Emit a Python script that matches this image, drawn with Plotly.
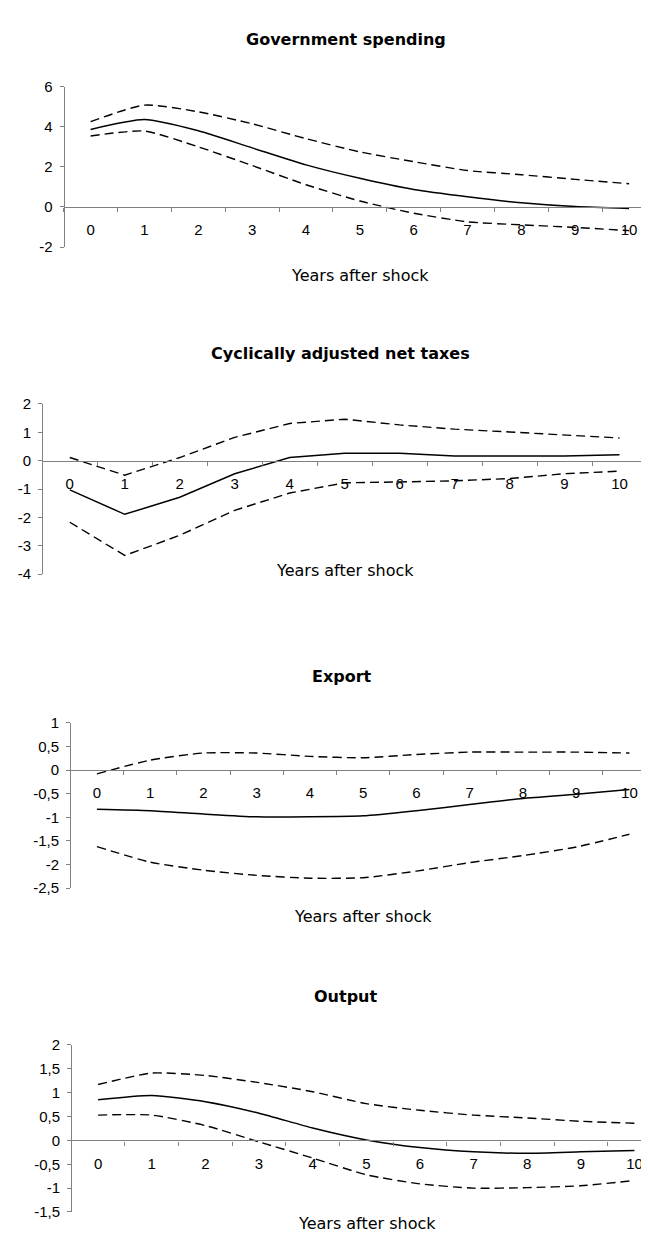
import plotly.graph_objects as go

W, H = 649, 1233

years = [str(i) for i in range(11)]

# Panel 1: Government spending
gov_mid = [3.87, 4.36, 3.80, 2.95, 2.10, 1.43, 0.87, 0.51, 0.21, 0.02, -0.07]
gov_up = [4.26, 5.08, 4.75, 4.15, 3.41, 2.75, 2.26, 1.82, 1.61, 1.38, 1.16]
gov_lo = [3.54, 3.79, 3.00, 2.07, 1.11, 0.30, -0.31, -0.74, -0.89, -1.02, -1.18]
gov_ticks = [-2, 0, 2, 4, 6]
gov_ticktext = ["-2", "0", "2", "4", "6"]

# Panel 2: Cyclically adjusted net taxes
tax_mid = [-1.03, -1.89, -1.29, -0.46, 0.11, 0.26, 0.26, 0.16, 0.16, 0.16, 0.21]
tax_up = [0.11, -0.51, 0.11, 0.82, 1.31, 1.46, 1.26, 1.11, 1.01, 0.90, 0.80]
tax_lo = [-2.17, -3.34, -2.63, -1.75, -1.14, -0.78, -0.75, -0.71, -0.63, -0.46, -0.37]
tax_ticks = [-4, -3, -2, -1, 0, 1, 2]
tax_ticktext = ["-4", "-3", "-2", "-1", "0", "1", "2"]

# Panel 3: Export
exp_mid = [-0.83, -0.86, -0.93, -0.99, -0.99, -0.97, -0.86, -0.73, -0.60, -0.51, -0.41]
exp_up = [-0.08, 0.21, 0.36, 0.36, 0.29, 0.26, 0.33, 0.38, 0.38, 0.38, 0.36]
exp_lo = [-1.62, -1.95, -2.12, -2.23, -2.29, -2.28, -2.14, -1.96, -1.81, -1.63, -1.36]
exp_ticks = [-2.5, -2, -1.5, -1, -0.5, 0, 0.5, 1]
exp_ticktext = ["-2,5", "-2", "-1,5", "-1", "-0,5", "0", "0,5", "1"]

# Panel 4: Output
out_mid = [0.85, 0.94, 0.81, 0.57, 0.26, 0.01, -0.15, -0.24, -0.27, -0.24, -0.21]
out_up = [1.17, 1.41, 1.36, 1.21, 1.02, 0.77, 0.63, 0.53, 0.47, 0.40, 0.36]
out_lo = [0.53, 0.53, 0.31, -0.03, -0.37, -0.72, -0.91, -1.00, -0.99, -0.95, -0.84]
out_ticks = [-1.5, -1, -0.5, 0, 0.5, 1, 1.5, 2]
out_ticktext = ["-1,5", "-1", "-0,5", "0", "0,5", "1", "1,5", "2"]

titles = ["Government spending", "Cyclically adjusted net taxes", "Export", "Output"]
xlabel = "Years after shock"

panels = [
    dict(mid=gov_mid, up=gov_up, lo=gov_lo, tv=gov_ticks, tt=gov_ticktext,
         yr=[-2, 6], xd=[55.7, 648], yd=[70.7, 233.3], zero=192.7, xr=[-0.5, 10.5],
         shape="spline", tpos=(338, 22.7), lpos=(352, 261.7)),
    dict(mid=tax_mid, up=tax_up, lo=tax_lo, tv=tax_ticks, tt=tax_ticktext,
         yr=[-4, 2], xd=[34.3, 639], yd=[392.3, 565], zero=450.0, xr=[-0.5, 10.5],
         shape="linear", tpos=(332, 341.7), lpos=(337, 561.7)),
    dict(mid=exp_mid, up=exp_up, lo=exp_lo, tv=exp_ticks, tt=exp_ticktext,
         yr=[-2.5, 1], xd=[62.3, 648], yd=[715.7, 883.3], zero=763.6, xr=[-0.5, 10.5],
         shape="spline", tpos=(334, 668.3), lpos=(355, 912.3)),
    dict(mid=out_mid, up=out_up, lo=out_lo, tv=out_ticks, tt=out_ticktext,
         yr=[-1.5, 2], xd=[63.3, 649], yd=[1042.3, 1211.7], zero=1139.1, xr=[-0.5, 10.42],
         shape="spline", tpos=(337, 992.7), lpos=(359, 1223.3)),
]

fig = go.Figure()
axis_col = "#808080"
tick_font = dict(family="Liberation Sans, Arial", size=15, color="#000000")
annotations = []

for i, p in enumerate(panels, start=1):
    xa = "x" if i == 1 else f"x{i}"
    ya = "y" if i == 1 else f"y{i}"
    line_kw = dict(shape=p["shape"], smoothing=0.6) if p["shape"] == "spline" else dict(shape="linear")
    fig.add_trace(go.Scatter(x=years, y=p["up"], mode="lines", xaxis=xa, yaxis=ya,
                             line=dict(color="black", width=1.4, dash="9px,5px", **line_kw),
                             showlegend=False))
    fig.add_trace(go.Scatter(x=years, y=p["lo"], mode="lines", xaxis=xa, yaxis=ya,
                             line=dict(color="black", width=1.4, dash="9px,5px", **line_kw),
                             showlegend=False))
    fig.add_trace(go.Scatter(x=years, y=p["mid"], mode="lines", xaxis=xa, yaxis=ya,
                             line=dict(color="black", width=1.5, **line_kw),
                             showlegend=False))

    xkey = "xaxis" if i == 1 else f"xaxis{i}"
    ykey = "yaxis" if i == 1 else f"yaxis{i}"
    x0, x1 = p["xd"]
    ytop, ybot = p["yd"]
    fig.update_layout(**{
        xkey: dict(type="category", domain=[x0 / W, min(x1 / W, 1.0)], range=p["xr"],
                   anchor="free", position=1 - p["zero"] / H,
                   showline=True, linecolor=axis_col, linewidth=1.3,
                   ticks="outside", ticklen=4, tickcolor=axis_col, tickwidth=1.3,
                   tickson="boundaries", showgrid=False, zeroline=False,
                   tickfont=tick_font, ticklabelstandoff=9, fixedrange=True),
        ykey: dict(domain=[1 - ybot / H, 1 - ytop / H], range=p["yr"],
                   anchor="free", position=x0 / W,
                   showline=True, linecolor=axis_col, linewidth=1.3,
                   ticks="outside", ticklen=4, tickcolor=axis_col, tickwidth=1.3,
                   tickvals=p["tv"], ticktext=p["tt"], showgrid=False, zeroline=False,
                   tickfont=tick_font, ticklabelstandoff=4, fixedrange=True),
    })

    annotations.append(dict(text="<b>" + titles[i - 1] + "</b>", xref="paper", yref="paper",
                            x=p["tpos"][0] / W, y=1 - p["tpos"][1] / H,
                            xanchor="center", yanchor="middle", showarrow=False,
                            font=dict(family="DejaVu Sans", size=16, color="black")))
    annotations.append(dict(text=xlabel, xref="paper", yref="paper",
                            x=p["lpos"][0] / W, y=1 - p["lpos"][1] / H,
                            xanchor="center", yanchor="middle", showarrow=False,
                            font=dict(family="DejaVu Sans", size=16, color="black")))

fig.update_layout(width=W, height=H, autosize=False,
                  margin=dict(l=0, r=0, t=0, b=0),
                  paper_bgcolor="white", plot_bgcolor="white",
                  annotations=annotations, showlegend=False)

fig.write_html("out.html")
